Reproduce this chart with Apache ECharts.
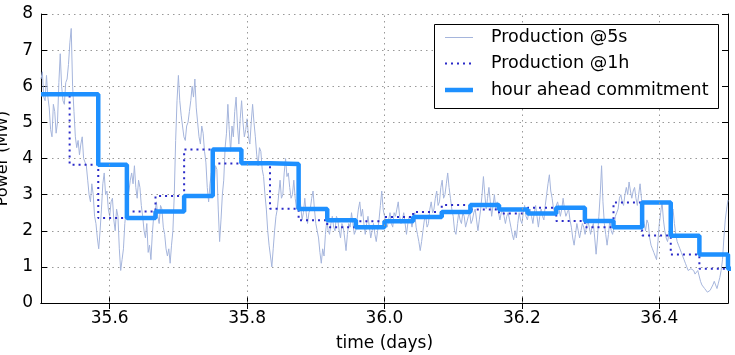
<!DOCTYPE html>
<html>
<head>
<meta charset="utf-8">
<script src="https://cdn.jsdelivr.net/npm/echarts@6/dist/echarts.min.js"></script>
<style>
  html, body { margin: 0; padding: 0; background: #fff; }
  #chart { width: 735px; height: 355px; }
</style>
</head>
<body>
<div id="chart"></div>
<script>
// 5 second production (MW), sampled every 0.002 day from 35.5
const prod5sStart = 35.5;
const prod5sStep = 0.002;
const prod5s = [
  6.2, 6.4, 5.7, 5.6, 6.3, 5.7, 5.4, 4.8, 4.6, 5.5, 5.3, 4.7, 5.0, 6.1, 6.9, 6.0, 5.6, 5.5, 6.1, 6.2,
  6.6, 7.2, 7.6, 6.0, 5.3, 4.6, 4.3, 4.5, 4.1, 4.4, 4.6, 4.0, 3.9, 3.8, 3.4, 3.0, 2.8, 3.3, 3.0, 2.4,
  2.2, 1.8, 1.5, 2.0, 2.6, 3.3, 3.6, 3.0, 3.1, 2.6, 2.4, 2.8, 2.9, 2.3, 2.0, 2.6, 2.4, 1.5, 0.9, 1.2,
  1.5, 2.2, 2.6, 2.9, 3.1, 3.4, 3.6, 3.3, 3.8, 3.2, 2.9, 3.4, 3.2, 2.7, 2.4, 2.0, 1.8, 2.2, 1.4, 1.6,
  1.2, 1.9, 2.4, 2.5, 2.8, 2.4, 2.2, 2.7, 2.6, 2.1, 1.9, 1.5, 1.3, 1.5, 1.1, 1.6, 2.0, 3.0, 4.5, 5.6,
  6.3, 5.6, 5.2, 4.9, 4.6, 4.5, 4.9, 5.0, 5.3, 5.6, 6.0, 5.7, 6.2, 5.4, 5.0, 4.6, 4.4, 4.9, 4.7, 4.2,
  3.9, 3.2, 2.8, 3.3, 3.6, 3.0, 3.2, 3.8, 3.7, 2.6, 1.7, 2.3, 3.0, 3.4, 4.3, 4.7, 5.5, 4.8, 4.2, 4.9,
  4.6, 5.3, 5.7, 4.9, 4.4, 5.1, 5.6, 5.0, 4.6, 4.8, 5.1, 4.6, 4.4, 5.0, 5.5, 5.0, 4.6, 4.1, 3.8, 4.3,
  4.2, 3.7, 3.5, 3.0, 2.6, 2.0, 1.6, 1.3, 1.0, 1.5, 2.0, 2.4, 2.6, 3.0, 3.4, 2.9, 3.0, 3.6, 4.0, 3.5,
  3.6, 3.2, 2.9, 3.0, 3.4, 2.9, 2.6, 2.8, 3.1, 2.7, 2.3, 2.5, 2.9, 2.5, 2.2, 2.5, 2.6, 2.9, 3.1, 2.6,
  2.2, 2.0, 1.8, 1.4, 1.1, 1.5, 1.3, 1.9, 2.3, 2.0, 1.9, 2.2, 2.4, 2.1, 2.0, 2.4, 2.3, 2.0, 1.8, 2.2,
  2.1, 1.8, 1.45, 1.9, 2.2, 2.1, 2.5, 2.2, 1.9, 2.0, 2.3, 2.6, 2.8, 2.4, 2.6, 2.2, 1.9, 2.2, 2.4, 2.1,
  1.8, 2.0, 2.2, 1.9, 1.7, 2.0, 2.3, 2.7, 3.1, 2.6, 2.4, 2.2, 2.1, 2.3, 2.5, 2.2, 2.1, 2.5, 2.4, 2.6,
  2.8, 2.4, 2.2, 2.3, 2.5, 2.2, 1.9, 2.2, 2.4, 2.3, 2.1, 2.3, 2.5, 2.1, 1.9, 1.7, 1.45, 1.7, 2.0, 2.3,
  2.4, 2.1, 2.2, 2.6, 2.8, 2.5, 2.6, 2.9, 3.1, 2.7, 2.8, 3.2, 3.4, 2.9, 3.0, 3.3, 3.6, 3.2, 2.9, 2.6,
  2.4, 2.0, 1.9, 2.2, 2.5, 2.3, 2.2, 2.5, 2.4, 2.1, 2.15, 2.4, 2.5, 2.2, 2.3, 2.5, 2.6, 2.3, 2.0, 2.3,
  2.6, 3.0, 3.5, 3.0, 2.6, 2.9, 3.2, 2.8, 2.4, 2.7, 3.0, 2.6, 2.8, 2.5, 2.3, 2.5, 2.6, 2.4, 2.2, 2.4,
  2.5, 2.3, 2.1, 1.9, 1.75, 2.0, 1.8, 2.2, 2.5, 2.3, 2.2, 2.5, 2.7, 2.4, 2.3, 2.5, 2.6, 2.4, 2.2, 2.5,
  2.7, 2.4, 2.1, 2.4, 2.6, 2.4, 2.3, 2.7, 3.0, 3.3, 3.55, 3.1, 2.9, 2.6, 2.5, 2.7, 2.8, 2.6, 2.4, 2.6,
  2.9, 2.6, 2.4, 2.5, 2.6, 2.3, 2.1, 1.8, 1.6, 1.9, 2.2, 2.0, 1.8, 2.0, 2.2, 2.1, 1.9, 2.1, 2.3, 2.1,
  1.9, 2.1, 2.2, 1.8, 1.35, 1.8, 2.4, 3.0, 3.8, 2.8, 2.2, 1.9, 1.6, 1.9, 2.3, 2.0, 1.9, 2.1, 2.4, 2.5,
  2.6, 2.9, 3.0, 2.8, 2.7, 3.0, 3.2, 3.0, 3.35, 3.1, 2.9, 3.1, 3.2, 2.9, 2.7, 3.0, 3.3, 2.9, 2.4, 2.2,
  2.0, 2.3, 2.2, 1.8, 1.6, 1.5, 1.4, 1.3, 1.2, 1.7, 2.2, 2.5, 2.8, 2.3, 2.0, 1.8, 1.7, 1.9, 2.2, 2.5,
  2.6, 2.2, 1.9, 1.7, 1.6, 1.5, 1.4, 1.3, 1.2, 1.1, 1.0, 0.9, 0.85, 0.95, 1.0, 0.9, 0.8, 0.85, 0.9, 0.75,
  0.6, 0.5, 0.45, 0.4, 0.35, 0.3, 0.3, 0.35, 0.4, 0.5, 0.6, 0.5, 0.4, 0.55, 0.7, 0.9, 1.2, 1.8, 2.3, 2.6, 2.85
];

// hourly values, hour 0 starts at day 35.5
const hourStart = 35.5;
const prod1h = [5.78, 3.83, 2.35, 2.53, 2.96, 4.25, 3.86, 3.85, 2.61, 2.29, 2.1, 2.26,
                2.38, 2.52, 2.71, 2.59, 2.48, 2.64, 2.27, 2.1, 2.78, 1.87, 1.34, 0.95];
const commitment = [5.78, 5.78, 3.83, 2.35, 2.53, 2.96, 4.25, 3.87, 3.85, 2.6, 2.29, 2.1,
                    2.26, 2.38, 2.52, 2.71, 2.59, 2.48, 2.64, 2.27, 2.1, 2.78, 1.86, 1.34, 0.95];

const xTicks = [35.6, 35.8, 36.0, 36.2, 36.4];
const legendNames = ['Production @5s', 'Production @1h', 'hour ahead commitment'];

const font = 'DejaVu Sans';
const colors = { p5s: '#a5b5dc', p1h: '#2a2ac8', commit: '#1e90ff' };

const data5s = prod5s.map((v, i) => [prod5sStart + i * prod5sStep, v]);
const stepData = arr => {
  const pts = arr.map((v, h) => [hourStart + h / 24, v]);
  pts.push([hourStart + arr.length / 24, arr[arr.length - 1]]);
  return pts;
};

const chart = echarts.init(document.getElementById('chart'), null, { renderer: 'canvas' });

const tickStyle = { show: true, inside: true, length: 6, lineStyle: { color: '#000', width: 1 } };
const lineStyleAxis = { show: true, lineStyle: { color: '#000', width: 1 } };

// legend drawn by hand so the samples are plain lines
const legendRows = [37.5, 63.5, 90];
const legendLineStyles = [
  { stroke: colors.p5s, lineWidth: 1 },
  { stroke: colors.p1h, lineWidth: 2, lineDash: [2, 4] },
  { stroke: colors.commit, lineWidth: 4.5 }
];
const legendGraphic = [{
  type: 'rect', left: 434, top: 24, z: 100,
  shape: { width: 284, height: 84 },
  style: { fill: '#fff', stroke: '#000', lineWidth: 1 }
}];
legendNames.forEach((name, k) => {
  legendGraphic.push({
    type: 'line', z: 101,
    shape: { x1: 445, y1: legendRows[k], x2: 473, y2: legendRows[k] },
    style: legendLineStyles[k]
  });
  legendGraphic.push({
    type: 'text', x: 491, y: legendRows[k], z: 101,
    style: { text: name, fontFamily: font, fontSize: 17.5, fill: '#000', verticalAlign: 'middle' }
  });
});

chart.setOption({
  animation: false,
  textStyle: { fontFamily: font },
  grid: { left: 41, right: 7, top: 14, bottom: 52, outerBoundsMode: 'none', containLabel: false },
  graphic: legendGraphic,
  xAxis: [{
    type: 'value', min: 35.5, max: 36.5,
    name: 'time (days)', nameLocation: 'middle', nameGap: 32,
    nameTextStyle: { fontFamily: font, fontSize: 17, color: '#000' },
    axisLine: lineStyleAxis,
    axisTick: Object.assign({ customValues: xTicks }, tickStyle),
    axisLabel: { customValues: xTicks, fontFamily: font, fontSize: 17, color: '#000', margin: 7,
      formatter: v => v.toFixed(1) },
    splitLine: { show: false }
  }, {
    type: 'value', min: 35.5, max: 36.5, position: 'top',
    axisLine: lineStyleAxis,
    axisTick: Object.assign({ customValues: xTicks }, tickStyle),
    axisLabel: { show: false },
    splitLine: { show: false }
  }],
  yAxis: [{
    type: 'value', min: 0, max: 8, interval: 1,
    name: 'Power (MW)', nameLocation: 'middle', nameGap: 29, nameRotate: 90,
    nameTextStyle: { fontFamily: font, fontSize: 16, color: '#000' },
    axisLine: lineStyleAxis,
    axisTick: tickStyle,
    axisLabel: { fontFamily: font, fontSize: 17, color: '#000', margin: 8 },
    splitLine: { show: true, lineStyle: { color: '#999', width: 1, type: [1.5, 4] } }
  }, {
    type: 'value', min: 0, max: 8, interval: 1, position: 'right',
    axisLine: lineStyleAxis,
    axisTick: tickStyle,
    axisLabel: { show: false },
    splitLine: { show: false }
  }],
  series: [
    {
      name: 'grid', type: 'line', data: [], z: 1, silent: true,
      markLine: {
        silent: true, symbol: 'none', label: { show: false },
        lineStyle: { color: '#999', width: 1, type: [1.5, 4] },
        data: xTicks.map(v => ({ xAxis: v }))
      }
    },
    {
      name: legendNames[0], type: 'line', data: data5s,
      showSymbol: false, symbol: 'none', z: 2,
      lineStyle: { color: colors.p5s, width: 1 }
    },
    {
      name: legendNames[1], type: 'line', data: stepData(prod1h), step: 'end',
      showSymbol: false, symbol: 'none', z: 3,
      lineStyle: { color: colors.p1h, width: 2, type: [2, 4] }
    },
    {
      name: legendNames[2], type: 'line', data: stepData(commitment), step: 'end',
      showSymbol: false, symbol: 'none', z: 4,
      lineStyle: { color: colors.commit, width: 4.5 }
    }
  ]
});
</script>
</body>
</html>
